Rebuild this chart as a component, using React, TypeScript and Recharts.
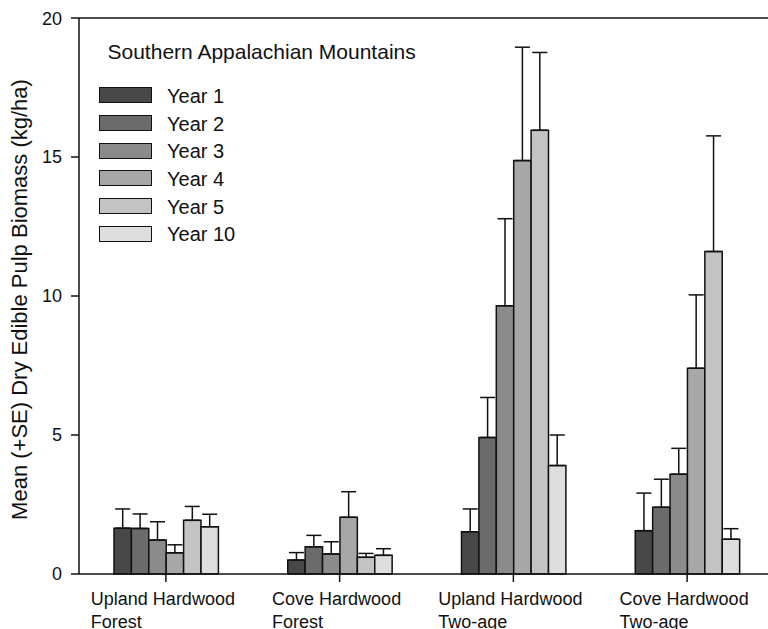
import React, { useLayoutEffect, useRef, useState } from 'react';
import { BarChart, Bar, XAxis, YAxis, ErrorBar, ReferenceLine, Legend, Label } from 'recharts';

const categories = [
  'Upland Hardwood Forest',
  'Cove Hardwood Forest',
  'Upland Hardwood Two-age',
  'Cove Hardwood Two-age',
];

const years = ['Year 1', 'Year 2', 'Year 3', 'Year 4', 'Year 5', 'Year 10'];
const fills = ['#484848', '#6b6b6b', '#8b8b8b', '#a7a7a7', '#c3c3c3', '#dedede'];

// mean biomass per stand type
const year1 = [1.65, 0.5, 1.52, 1.56];
const year2 = [1.64, 0.98, 4.91, 2.4];
const year3 = [1.22, 0.72, 9.65, 3.59];
const year4 = [0.76, 2.04, 14.87, 7.4];
const year5 = [1.93, 0.6, 15.96, 11.6];
const year10 = [1.7, 0.67, 3.9, 1.25];

// standard errors (only drawn upward)
const se1 = [0.69, 0.27, 0.82, 1.35];
const se2 = [0.52, 0.41, 1.44, 1.01];
const se3 = [0.66, 0.44, 3.13, 0.93];
const se4 = [0.29, 0.92, 4.08, 2.64];
const se5 = [0.5, 0.14, 2.8, 4.16];
const se10 = [0.45, 0.24, 1.1, 0.38];

const yTicks = [0, 5, 10, 15, 20];

const means = [year1, year2, year3, year4, year5, year10];
const errors = [se1, se2, se3, se4, se5, se10];

const data = categories.map((name, i) => {
  const row: Record<string, any> = { name };
  means.forEach((m, s) => {
    row[`y${s}`] = m[i];
    row[`e${s}`] = [0, errors[s][i]];
  });
  return row;
});

const FONT = '"Liberation Sans", Arial, Helvetica, sans-serif';

const GroupTick = ({ x, y, payload }: any) => {
  const ref = useRef<SVGTSpanElement>(null);
  const [w, setW] = useState(0);
  const value: string = payload.value;
  const cut = value.lastIndexOf(' ');
  const line1 = value.slice(0, cut);
  const line2 = value.slice(cut + 1);
  useLayoutEffect(() => {
    if (ref.current) setW(ref.current.getComputedTextLength());
  }, [value]);
  const left = x - w / 2 - 3;
  return (
    <text x={left} y={y} fontSize={18} fontFamily={FONT} fill="#111" textAnchor="start">
      <tspan ref={ref} x={left} dy={21}>{line1}</tspan>
      <tspan x={left} dy={23}>{line2}</tspan>
    </text>
  );
};

const YTitle = ({ viewBox }: any) => {
  const cx = 18.7;
  const cy = viewBox ? viewBox.y + viewBox.height / 2 + 3.5 : 291.5;
  return (
    <text
      x={cx}
      y={cy}
      transform={`rotate(-90, ${cx}, ${cy})`}
      textAnchor="middle"
      fontSize={22}
      fontFamily={FONT}
      fill="#111"
    >
      Mean (+SE) Dry Edible Pulp Biomass (kg/ha)
    </text>
  );
};

const LegendBox = () => (
  <div style={{ position: 'relative', width: 360, height: 260, fontFamily: FONT, color: '#111' }}>
    <div style={{ position: 'absolute', left: 99.5, top: 33.2, fontSize: 21, lineHeight: '21px', whiteSpace: 'nowrap' }}>
      Southern Appalachian Mountains
    </div>
    {years.map((yr, i) => (
      <React.Fragment key={yr}>
        <div
          style={{
            position: 'absolute',
            left: 91.3,
            top: 79.3 + i * 27.7,
            width: 52.4,
            height: 16,
            boxSizing: 'border-box',
            border: '1.6px solid #111',
            background: fills[i],
          }}
        />
        <div
          style={{
            position: 'absolute',
            left: 159,
            top: 77.8 + i * 27.7,
            fontSize: 20,
            lineHeight: '20px',
            whiteSpace: 'nowrap',
          }}
        >
          {yr}
        </div>
      </React.Fragment>
    ))}
  </div>
);

export default function App() {
  return (
    <div style={{ position: 'fixed', left: 0, top: 0, width: 768, height: 629, overflow: 'hidden', background: '#fff' }}>
      <div style={{ position: 'absolute', left: 8, top: 8 }}>
        <BarChart
          width={766}
          height={640}
          data={data}
          margin={{ top: 10, right: 0, bottom: 0, left: 0 }}
          barGap={0}
          barSize={17.4}
        >
          <XAxis
            dataKey="name"
            height={74}
            axisLine={{ stroke: '#111', strokeWidth: 1.5 }}
            tickLine={{ stroke: '#111', strokeWidth: 1.5 }}
            tickSize={8}
            tickMargin={2}
            tick={<GroupTick />}
            interval={0}
          />
          <YAxis
            width={71}
            domain={[0, 20]}
            ticks={yTicks}
            axisLine={{ stroke: '#111', strokeWidth: 1.5 }}
            tickLine={{ stroke: '#111', strokeWidth: 1.5 }}
            tickSize={8}
            tickMargin={9}
            tick={{ fontSize: 18, fontFamily: FONT, fill: '#111' }}
          >
            <Label content={<YTitle />} />
          </YAxis>
          <ReferenceLine y={20} stroke="#111" strokeWidth={1.5} />
          {years.map((yr, s) => (
            <Bar
              key={yr}
              dataKey={`y${s}`}
              name={yr}
              fill={fills[s]}
              stroke="#111"
              strokeWidth={1.5}
              isAnimationActive={false}
            >
              <ErrorBar dataKey={`e${s}`} direction="y" width={7.5} stroke="#111" strokeWidth={1.5} />
            </Bar>
          ))}
          <Legend
            layout="vertical"
            align="center"
            verticalAlign="middle"
            wrapperStyle={{ top: 0, left: 0, width: 360, height: 260 }}
            content={<LegendBox />}
          />
        </BarChart>
      </div>
    </div>
  );
}
